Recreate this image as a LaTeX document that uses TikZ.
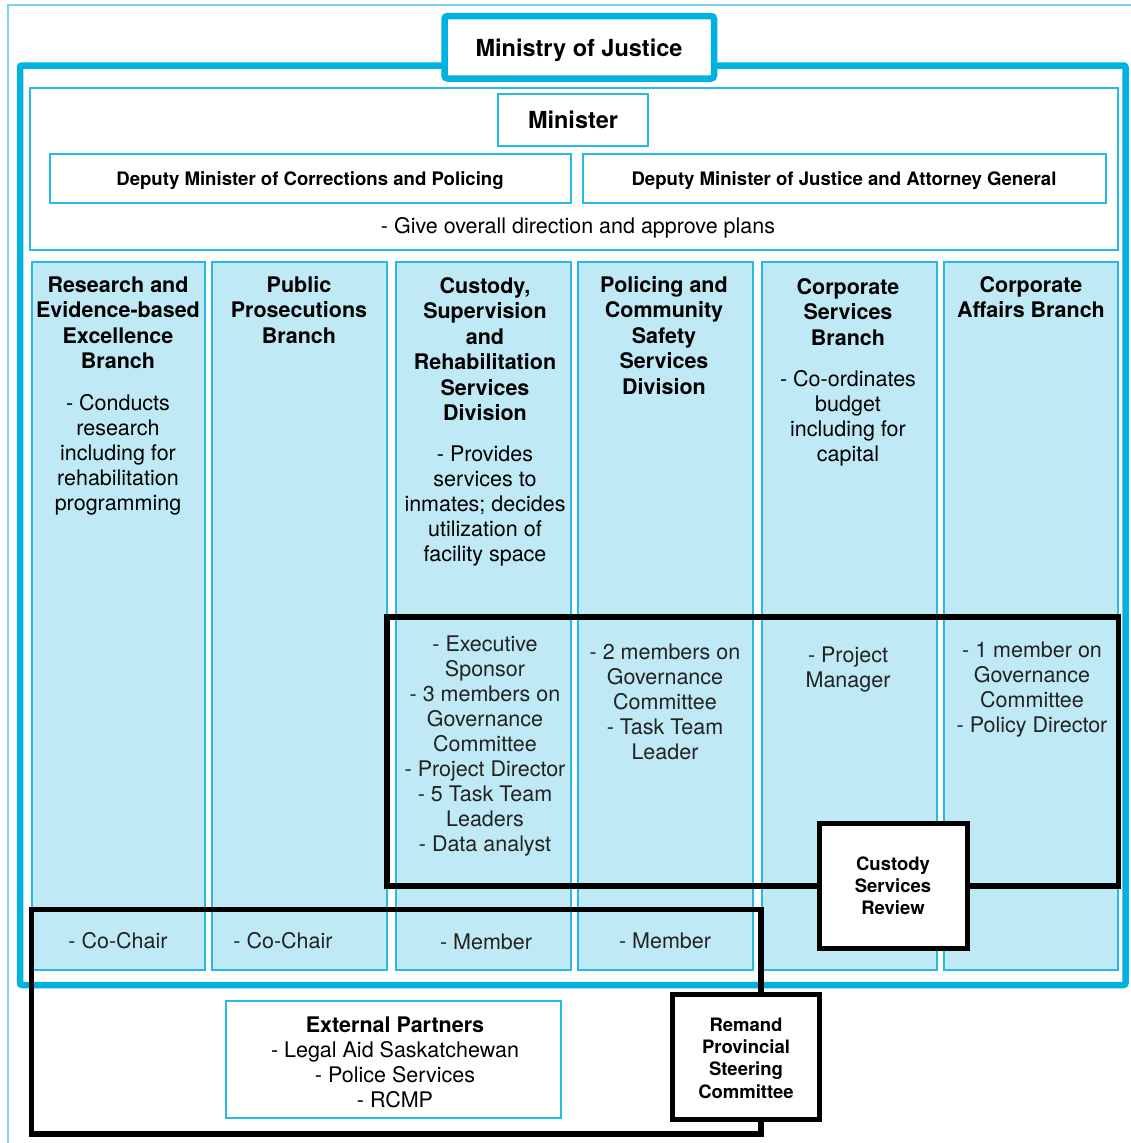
\documentclass[tikz,border=0pt]{standalone}
\usepackage{fontspec}
\setmainfont{TeX Gyre Heros}
\definecolor{mjblue}{RGB}{0,178,224}
\definecolor{thinblue}{RGB}{40,185,228}
\definecolor{paleblue}{RGB}{120,210,240}
\definecolor{colfill}{RGB}{191,234,245}
\definecolor{bodygray}{RGB}{34,34,34}
\newcommand\rbox[6]{\node[#1, anchor=north west, minimum width={(#5-#3)*1pt}, minimum height={(#6-#4)*1pt}, inner sep=0pt, outer sep=0pt] (#2) at (#3,#4) {};}
\tikzset{
  thickblue/.style={draw=mjblue, line width=6.5pt, fill=white},
  bluebox/.style={draw=thinblue, line width=1.6pt, fill=white},
  colbox/.style={draw=thinblue, line width=1.4pt, fill=colfill},
  grp/.style={draw=black, line width=5.5pt},
  grpbox/.style={draw=black, line width=5.5pt, fill=white},
  hdr/.style={font=\fontsize{21.5}{25.5}\selectfont\bfseries, align=center, anchor=base, inner sep=0pt},
  body/.style={font=\fontsize{21.5}{25}\selectfont, align=center, anchor=base, inner sep=0pt, text=bodygray},
  small/.style={font=\fontsize{18.5}{22.4}\selectfont\bfseries, align=center, anchor=base, inner sep=0pt},
}
\begin{document}
\begin{tikzpicture}[x=1pt,y=-1pt]
\useasboundingbox (0,0) rectangle (1130,1143);
% outer thin border
\draw[paleblue, line width=1.6pt] (8,1150) -- (8,5) -- (1140,5);
% ministry thick frame
\rbox{thickblue, rounded corners=2pt}{ministry}{20}{65.5}{1125.5}{985}
\rbox{thickblue, rounded corners=3pt}{mojbox}{444.5}{16}{714}{78.5}
\node[font=\fontsize{23.5}{28}\selectfont\bfseries, anchor=base, inner sep=0pt] (mojtext) at (579,56.5) {Ministry of Justice};
% top white area
\rbox{bluebox}{topbox}{30}{88}{1118}{250}
\rbox{bluebox}{minister}{498}{94}{648}{146}
\node[font=\fontsize{23.5}{28}\selectfont\bfseries, anchor=base, inner sep=0pt] (ministertext) at (573,128.5) {Minister};
\rbox{bluebox}{dmcp}{50}{154}{571}{203}
\rbox{bluebox}{dmjag}{583}{154}{1106}{203}
\node[font=\fontsize{18.6}{22}\selectfont\bfseries, anchor=base, inner sep=0pt] (dmcptext) at (310,185) {Deputy Minister of Corrections and Policing};
\node[font=\fontsize{18.6}{22}\selectfont\bfseries, anchor=base, inner sep=0pt] (dmjagtext) at (844,185) {Deputy Minister of Justice and Attorney General};
\node[body, text=black] (overall) at (578,233) {- Give overall direction and approve plans};
% columns
\rbox{colbox}{c1}{32}{262}{205}{970}
\rbox{colbox}{c2}{212}{262}{387}{970}
\rbox{colbox}{c3}{396}{262}{571}{970}
\rbox{colbox}{c4}{578}{262}{753}{970}
\rbox{colbox}{c5}{762}{262}{937}{970}
\rbox{colbox}{c6}{944}{262}{1118}{970}
% headers (anchor base = baseline of the last line)
\node[hdr] (h1) at (118,368.5) {Research and\\Evidence-based\\Excellence\\Branch};
\node[hdr] (h2) at (299,343) {Public\\Prosecutions\\Branch};
\node[hdr] (h3) at (485,420.5) {Custody,\\Supervision\\and\\Rehabilitation\\Services\\Division};
\node[hdr] (h4) at (664,394) {Policing and\\Community\\Safety\\Services\\Division};
\node[hdr] (h5) at (848,345) {Corporate\\Services\\Branch};
\node[hdr] (h6) at (1031,317.5) {Corporate\\Affairs Branch};
% descriptions
\node[body, text=black] (d1) at (118,510) {- Conducts\\research\\including for\\rehabilitation\\programming};
\node[body, text=black] (d3) at (485,561) {- Provides\\services to\\inmates; decides\\utilization of\\facility space};
\node[body, text=black] (d5) at (848,461) {- Co-ordinates\\budget\\including for\\capital};
% review roles
\node[body] (r3) at (485,851) {- Executive\\Sponsor\\- 3 members on\\Governance\\Committee\\- Project Director\\- 5 Task Team\\Leaders\\- Data analyst};
\node[body] (r4) at (665,759) {- 2 members on\\Governance\\Committee\\- Task Team\\Leader};
\node[body] (r5) at (848,687) {- Project\\Manager};
\node[body] (r6) at (1032,732) {- 1 member on\\Governance\\Committee\\- Policy Director};
% steering roles
\node[body] (s1) at (118,948) {- Co-Chair};
\node[body] (s2) at (283,948) {- Co-Chair};
\node[body] (s3) at (486,949) {- Member};
\node[body] (s4) at (665,948) {- Member};
% group outlines
\rbox{grp}{review}{387}{617}{1118.5}{886}
\rbox{grp}{remand}{31.5}{909.5}{761}{1134}
\rbox{grpbox}{csr}{819.5}{823.5}{967.5}{948.5}
\node[small] (csrtext) at (893,914.8) {Custody\\Services\\Review};
\rbox{grpbox}{rpsc}{672.5}{994.5}{819.5}{1119.5}
\node[small] (rpsctext) at (746,1098.2) {Remand\\Provincial\\Steering\\Committee};
% external partners
\rbox{bluebox}{ext}{226}{1001}{561}{1118}
\node[body, text=black] (exttext) at (395,1107) {\textbf{External Partners}\\- Legal Aid Saskatchewan\\- Police Services\\- RCMP};
\end{tikzpicture}
\end{document}
